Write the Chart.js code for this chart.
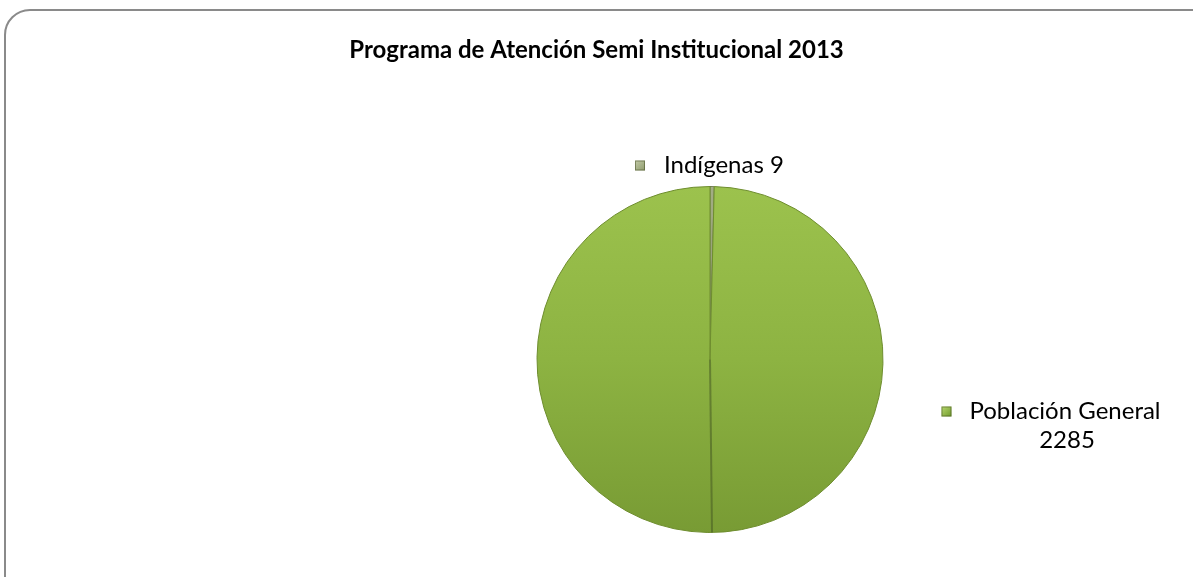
<!DOCTYPE html>
<html>
<head>
<meta charset="utf-8">
<script src="https://cdn.jsdelivr.net/npm/chart.js@4/dist/chart.umd.min.js"></script>
<style>
  html, body { margin: 0; padding: 0; background: #fff; overflow: hidden; }
  #wrap { position: relative; width: 1193px; height: 577px; overflow: hidden; }
  #frame { position: absolute; left: 4px; top: 9px; width: 1215px; height: 600px;
           border: 2px solid #8a8a8a; border-radius: 26px; box-sizing: border-box; }
  canvas { position: absolute; left: 0; top: 0; }
</style>
</head>
<body>
<div id="wrap">
  <div id="frame"></div>
  <canvas id="c" width="1193" height="577"></canvas>
</div>
<script>
const title = "Programa de Atención Semi Institucional 2013";
const categories = ["Indígenas", "Población General"];
const values = [9, 2285];
const sliceColors = ["#8e9a6c", "#8fb645"];

const FONT = "Lato, 'Open Sans', sans-serif";

function sliceFill(ctx) {
  const chart = ctx.chart;
  const a = chart.chartArea;
  if (!a) return sliceColors[ctx.dataIndex];
  const c = chart.ctx;
  const g = c.createLinearGradient(0, a.top, 0, a.bottom);
  if (ctx.dataIndex === 0) {
    g.addColorStop(0, "#a3ad85");
    g.addColorStop(1, "#6f7a50");
  } else {
    g.addColorStop(0, "#9cc24d");
    g.addColorStop(0.5, "#8db342");
    g.addColorStop(1, "#789b34");
  }
  return g;
}

const labelPlugin = {
  id: "labels",
  afterDatasetsDraw(chart) {
    const c = chart.ctx;
    const arcs = chart.getDatasetMeta(0).data;
    const arc = arcs[0];
    const cx = arc.x, cy = arc.y, r = arc.outerRadius;

    // seam line on lower half (bevel artifact)
    c.save();
    c.strokeStyle = "rgba(70,90,35,0.55)";
    c.lineWidth = 2;
    c.beginPath();
    c.moveTo(cx, cy);
    c.lineTo(cx + 2, cy + r);
    c.stroke();
    c.restore();

    // title
    c.save();
    c.fillStyle = "#000";
    c.font = "bold 24px " + FONT;
    c.textAlign = "center";
    c.textBaseline = "middle";
    c.fillText(title, chart.width / 2, 50);
    c.restore();

    function key(x, y, color1, color2) {
      c.save();
      const g = c.createLinearGradient(x, y, x + 10, y + 10);
      g.addColorStop(0, color1);
      g.addColorStop(1, color2);
      c.fillStyle = g;
      c.fillRect(x, y, 10, 10);
      c.strokeStyle = "rgba(60,70,30,0.5)";
      c.lineWidth = 1;
      c.strokeRect(x + 0.5, y + 0.5, 9, 9);
      c.restore();
    }

    c.save();
    c.font = "24px " + FONT;
    c.fillStyle = "#000";
    c.textBaseline = "middle";

    // Indígenas label above pie
    const t1 = categories[0] + " " + values[0];
    const w1 = c.measureText(t1).width;
    const x1 = cx - 75;
    const y1 = cy - r - 21;
    key(x1, y1 - 5, "#c3cba8", "#8e9a6c");
    c.fillStyle = "#000";
    c.textAlign = "left";
    c.fillText(t1, x1 + 29, y1);

    // Población General label to the right
    const tc = cx + r + 182;
    const y2 = cy + 52;
    const w2 = c.measureText(categories[1]).width;
    key(tc - w2 / 2 - 28, y2 - 5, "#b8d870", "#6f9a2a");
    c.fillStyle = "#000";
    c.textAlign = "center";
    c.fillText(categories[1], tc, y2);
    c.fillText(String(values[1]), tc + 2, y2 + 29);
    c.restore();
  }
};

new Chart(document.getElementById("c"), {
  type: "pie",
  data: {
    labels: categories,
    datasets: [{
      data: values,
      backgroundColor: sliceFill,
      borderColor: ["#6f7a50", "#6e8d2e"],
      borderWidth: 1
    }]
  },
  options: {
    responsive: false,
    animation: false,
    rotation: 0,
    layout: { padding: { top: 186, bottom: 44, left: 364, right: 137 } },
    plugins: {
      legend: { display: false },
      title: { display: false },
      tooltip: { enabled: false }
    }
  },
  plugins: [labelPlugin]
});
</script>
</body>
</html>
